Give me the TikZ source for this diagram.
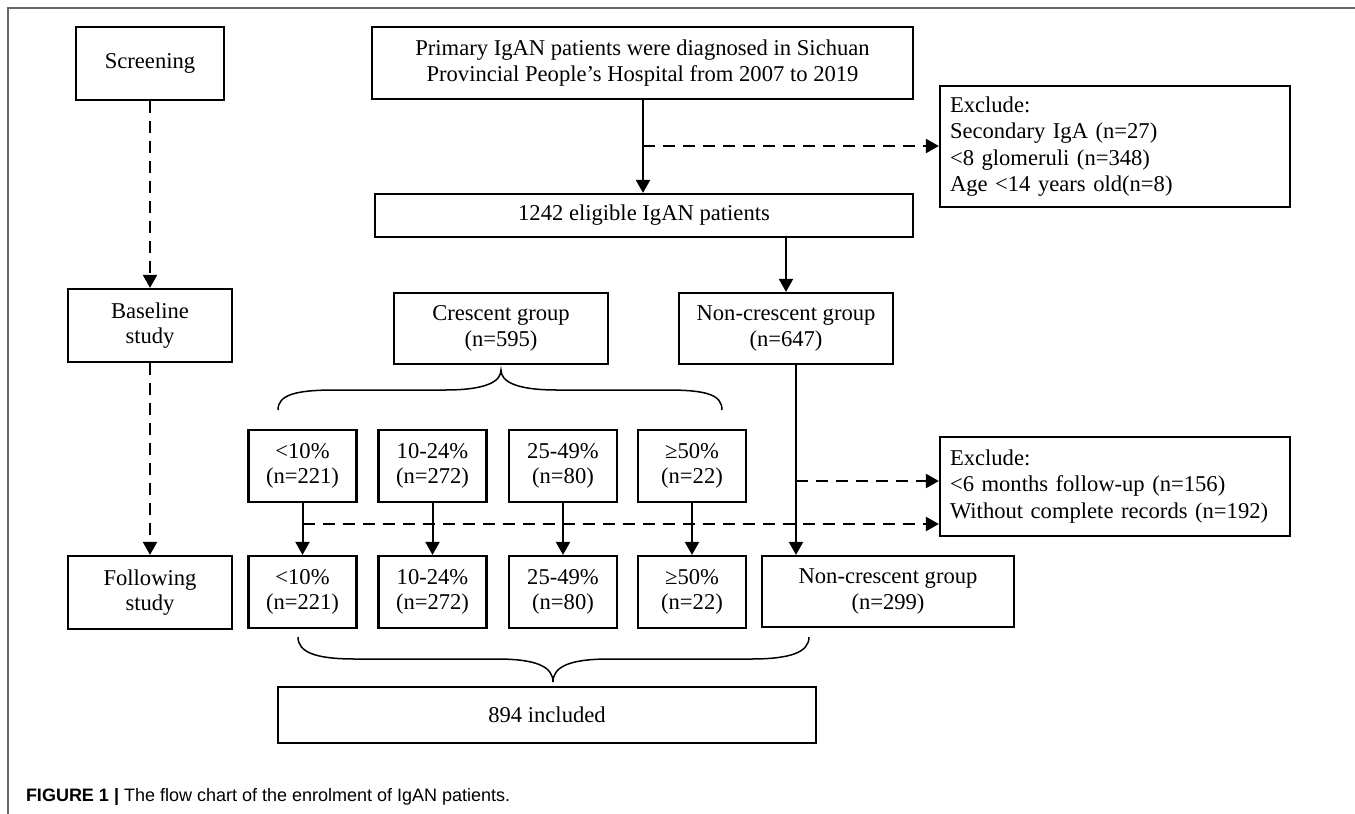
\documentclass[tikz,border=0pt]{standalone}
\usepackage{fontspec}
\setmainfont{Liberation Serif}
\newfontfamily\capfont{Liberation Sans}
\usetikzlibrary{arrows.meta}

\begin{document}
\begin{tikzpicture}[x=0.5pt, y=-0.5pt, >={Triangle[width=7pt,length=6.5pt]}, line width=1pt]
\useasboundingbox (0,0) rectangle (1355,814);
\draw[black!60, line width=0.8pt] (8,814) -- (8,8) -- (1355,8);
\tikzstyle{every node} = [draw, line width=1.1pt, align=center, inner sep=0pt, font=\fontsize{11.3}{12.8}\selectfont]
\tikzstyle{excl} = [align=left, text width=165pt, inner xsep=5pt, font=\fontsize{11.3}{13.25}\selectfont]
\tikzstyle{dsh} = [dash pattern=on 6pt off 4pt]
% stages
\node[minimum width=74pt, minimum height=36.5pt] (scr) at (150,63.5) {Screening};
\node[minimum width=82pt, minimum height=36.5pt] (base) at (150,325.5) {Baseline\\study};
\node[minimum width=82pt, minimum height=36.5pt] (foll) at (150,592.5) {Following\\study};
% screening
\node[minimum width=270.5pt, minimum height=36pt] (prim) at (642.5,63) {Primary IgAN patients were diagnosed in Sichuan\\Provincial People's Hospital from 2007 to 2019};
\node[minimum width=269pt, minimum height=21.5pt] (elig) at (644,215.5) {1242 eligible IgAN patients};
\node[excl, minimum height=60.5pt] (exc1) at (1115,146.5) {Exclude:\\Secondary IgA (n=27)\\<8 glomeruli (n=348)\\Age <14 years old(n=8)};
% baseline
\node[minimum width=107pt, minimum height=35.5pt] (cres) at (501,328.5) {Crescent group\\(n=595)};
\node[minimum width=107pt, minimum height=35.5pt] (ncres) at (786,328.5) {Non-crescent group\\(n=647)};
\node[minimum width=54pt, minimum height=36pt] (a1) at (302.5,466) {<10\%\\(n=221)};
\node[minimum width=54pt, minimum height=36pt] (a2) at (432.5,466) {10-24\%\\(n=272)};
\node[minimum width=54pt, minimum height=36pt] (a3) at (563,466) {25-49\%\\(n=80)};
\node[minimum width=54pt, minimum height=36pt] (a4) at (692,466) {≥50\%\\(n=22)};
\node[excl, minimum height=49.5pt] (exc2) at (1115,486.5) {Exclude:\\<6 months follow-up (n=156)\\Without complete records (n=192)};
% following
\node[minimum width=54pt, minimum height=36pt] (b1) at (302.5,592) {<10\%\\(n=221)};
\node[minimum width=54pt, minimum height=36pt] (b2) at (432.5,592) {10-24\%\\(n=272)};
\node[minimum width=54pt, minimum height=36pt] (b3) at (563,592) {25-49\%\\(n=80)};
\node[minimum width=54pt, minimum height=36pt] (b4) at (692,592) {≥50\%\\(n=22)};
\node[minimum width=126pt, minimum height=35.5pt] (ncres2) at (888,591.5) {Non-crescent group\\(n=299)};
\node[minimum width=269pt, minimum height=28pt] (incl) at (547,715) {894 included};
\coordinate (d1) at (643,146);
\coordinate (d2) at (796,481);
\coordinate (d3) at (302.5,524);
\coordinate (n1) at (796,364.5);
% connectors
\draw[->, dsh] (scr) -- (base);
\draw[->, dsh] (base) -- (foll);
\draw[->] (prim.south -| d1) -- (elig.north -| d1);
\draw[->, dsh] (d1) -- (d1 -| exc1.west);
\draw[->] (ncres.north |- elig.south) -- (ncres.north);
\draw[->] (a1) -- (b1);
\draw[->] (a2) -- (b2);
\draw[->] (a3) -- (b3);
\draw[->] (a4) -- (b4);
\draw[->] (n1) -- (n1 |- ncres2.north);
\draw[->, dsh] (d2) -- (d2 -| exc2.west);
\draw[->, dsh] (d3) -- (d3 -| exc2.west);
% braces
\draw[line width=0.75pt] (278,410) .. controls (278,395) and (295,390) .. (335,390) -- (445,390) .. controls (485,390) and (501,382) .. (501,370)
  .. controls (501,382) and (517,390) .. (557,390) -- (667,390) .. controls (707,390) and (722,395) .. (722,410);
\draw[line width=0.75pt] (298,637) .. controls (298,652) and (315,659) .. (355,659) -- (497,659) .. controls (537,659) and (553,667) .. (553,682)
  .. controls (553,667) and (569,659) .. (609,659) -- (751,659) .. controls (791,659) and (809,652) .. (809,637);
\tikzstyle{every node} = [inner sep=0pt, font=\capfont\fontsize{9}{11}\selectfont]
\node[anchor=west] (cap) at (25,797) {\textbf{FIGURE 1 |} The flow chart of the enrolment of IgAN patients.};
\end{tikzpicture}
\end{document}
